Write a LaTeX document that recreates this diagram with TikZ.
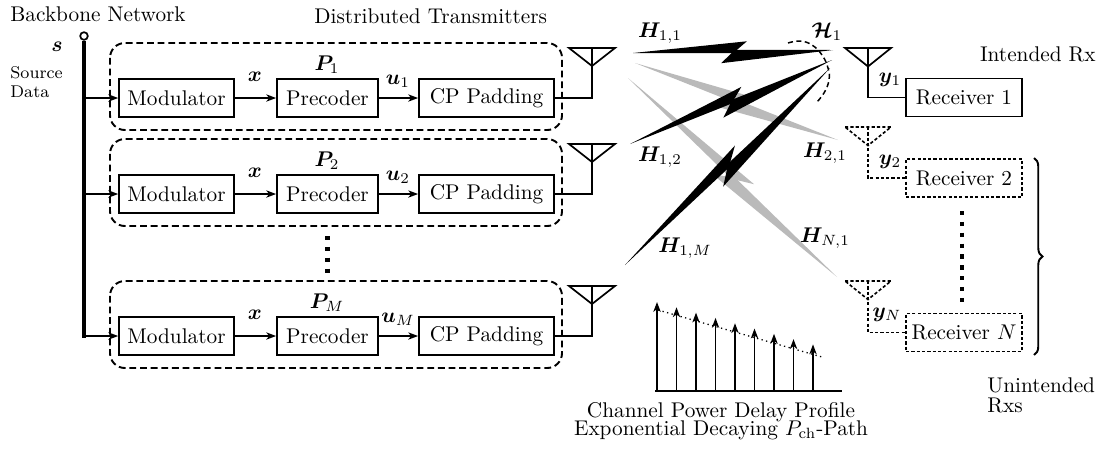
\documentclass[tikz,border=0pt]{standalone}
\usepackage{amsmath,bm}
\usetikzlibrary{arrows.meta,calc,decorations.pathreplacing}
\newcommand{\lbolt}[3]{%
  \fill[#3] (#1) -- ($(#1)!0.57!(#2)!4.7pt!90:(#2)$) -- ($(#1)!0.50!(#2)!0.8pt!-90:(#2)$) -- cycle;
  \fill[#3] (#2) -- ($(#1)!0.44!(#2)!5.4pt!-90:(#2)$) -- ($(#1)!0.51!(#2)!0.8pt!90:(#2)$) -- cycle;}
\begin{document}
\begin{tikzpicture}[x=0.47pt,y=-0.47pt,
  every node/.style={inner sep=0pt, font=\fontsize{10}{12}\selectfont},
  blk/.style={draw,line width=0.8pt,minimum height=17.9pt},
  rxblk/.style={draw,line width=0.75pt,minimum height=17.9pt,minimum width=54.5pt},
  grp/.style={draw,line width=0.9pt,dash pattern=on 3.2pt off 1.8pt,rounded corners=7pt},
  con/.style={line width=0.8pt},
  arr/.style={con,-{Stealth[length=4.6pt,width=3.4pt,inset=1.3pt]}},
  dsh/.style={line width=0.75pt,dash pattern=on 1.5pt off 1pt},
  vdots/.style={line width=2pt,dash pattern=on 2pt off 3.1pt},
  pdp/.style={line width=0.9pt,-{Stealth[length=4.6pt,width=3.4pt,inset=1.3pt]}},
]
\useasboundingbox (0,0) rectangle (1104,452);

% titles
\node[anchor=base west] (bbn) at (10,21) {Backbone Network};
\node[anchor=base west] (dtx) at (314,23) {Distributed Transmitters};
\node[anchor=base east] (irx) at (1096,61) {Intended Rx};
\node[align=left,anchor=west,font=\fontsize{8}{9}\selectfont] (srcd) at (10,82) {Source\\Data};

% backbone
\node[draw,circle,line width=0.8pt,minimum size=3.6pt] (ss) at (84,36) {};
\node (slbl) at (57,47) {$\bm{s}$};

% transmitter rows
\foreach \c/\k in {98/1,194/2,336/M}{
  \draw[grp] (110,\c-55) rectangle (562,\c+32);
  \node[blk,minimum width=54pt] (mod\k) at (176.5,\c) {Modulator};
  \node[blk,minimum width=47.5pt] (pre\k) at (327.5,\c) {Precoder};
  \node[blk,minimum width=63.5pt] (cp\k) at (486.5,\c) {CP Padding};
  \coordinate (bb\k) at (84,\c);
  \coordinate (ant\k) at (592,\c-50);
  \draw[arr] (bb\k) -- (mod\k.west);
  \draw[arr] (mod\k.east) -- (pre\k.west);
  \draw[arr] (pre\k.east) -- (cp\k.west);
  \node (xl\k) at (255,\c-21) {$\bm{x}$};
  \node (pl\k) at (327,\c-33) {$\bm{P}_{\k}$};
  \node (ul\k) at (398,\c-17) {$\bm{u}_{\k}$};
  \draw[con] ($(ant\k)+(-23,0)$) -- ($(ant\k)+(23,0)$) -- ($(ant\k)+(0,18)$) -- cycle;
  \draw[con] (cp\k.east) -| (ant\k);
}
\draw[line width=1.6pt] (ss.south) -- ($(bbM)+(0,1.5)$);
\draw[vdots] (327.5,236) -- (327.5,274);

% channels
\coordinate (g21a) at (635,63);  \coordinate (g21b) at (838,140);
\coordinate (gN1a) at (628,78);  \coordinate (gN1b) at (837,277);
\coordinate (h11a) at (633,53);  \coordinate (h11b) at (833,50);
\coordinate (h12a) at (630,144); \coordinate (h12b) at (832,60);
\coordinate (h1Ma) at (625,265); \coordinate (h1Mb) at (830,68);
\lbolt{g21a}{g21b}{black!27}
\lbolt{gN1a}{gN1b}{black!27}
\lbolt{h11a}{h11b}{black}
\lbolt{h12a}{h12b}{black}
\lbolt{h1Ma}{h1Mb}{black}
\draw[line width=0.7pt,dash pattern=on 2.4pt off 1.6pt] plot[smooth,tension=0.7] coordinates {(788,43) (800,41) (812,45) (822,55) (828,68) (829,80) (824,93) (816,103)};

\node (lh11) at (660,33) {$\bm{H}_{1,1}$};
\node (lcH) at (827,32) {$\bm{\mathcal{H}}_1$};
\node (lh12) at (660,157) {$\bm{H}_{1,2}$};
\node (lh21) at (825,153) {$\bm{H}_{2,1}$};
\node (lh1M) at (685,248) {$\bm{H}_{1,M}$};
\node (lhN1) at (825,238) {$\bm{H}_{N,1}$};

% receivers
\node[rxblk] (rx1) at (964,97.5) {Receiver 1};
\node[rxblk,dsh] (rx2) at (964,178) {Receiver 2};
\node[rxblk,dsh] (rxN) at (964,332.5) {Receiver $N$};
\coordinate (ra1) at (868,48);
\coordinate (ra2) at (868,127);
\coordinate (raN) at (868,281);
\draw[con] ($(ra1)+(-23,0)$) -- ($(ra1)+(23,0)$) -- ($(ra1)+(0,18.5)$) -- cycle;
\draw[con] (ra1) |- (rx1.west);
\draw[dsh] ($(ra2)+(-23,0)$) -- ($(ra2)+(23,0)$) -- ($(ra2)+(0,18.5)$) -- cycle;
\draw[dsh] (ra2) |- (rx2.west);
\draw[dsh] ($(raN)+(-23,0)$) -- ($(raN)+(23,0)$) -- ($(raN)+(0,18.5)$) -- cycle;
\draw[dsh] (raN) |- (rxN.west);
\node (ly1) at (890,80) {$\bm{y}_1$};
\node (ly2) at (890,162) {$\bm{y}_2$};
\node (lyN) at (887,315) {$\bm{y}_N$};
\draw[vdots] (962,211) -- (962,303);
\draw[decorate,decoration={brace,amplitude=4pt},line width=0.9pt] (1034,158) -- (1034,355);
\node[align=left,anchor=north west,font=\fontsize{10}{9.4}\selectfont] (urx) at (987,377) {Unintended\\Rxs};

% power delay profile
\draw[line width=0.9pt] (655,391) -- (842,391);
\foreach \i in {0,...,8} \draw[pdp] (657+19.5*\i,391) -- (657+19.5*\i,302+5.3*\i);
\draw[line width=0.6pt,dash pattern=on 0.6pt off 1.6pt] (658,310) -- (822,357);
\node[align=center,font={\fontsize{10}{8.5}\selectfont\lineskiplimit=-20pt\relax}] (pdptxt) at (721,421) {Channel Power Delay Profile\\Exponential Decaying $P_{\mathrm{ch}}$-Path};
\end{tikzpicture}
\end{document}
